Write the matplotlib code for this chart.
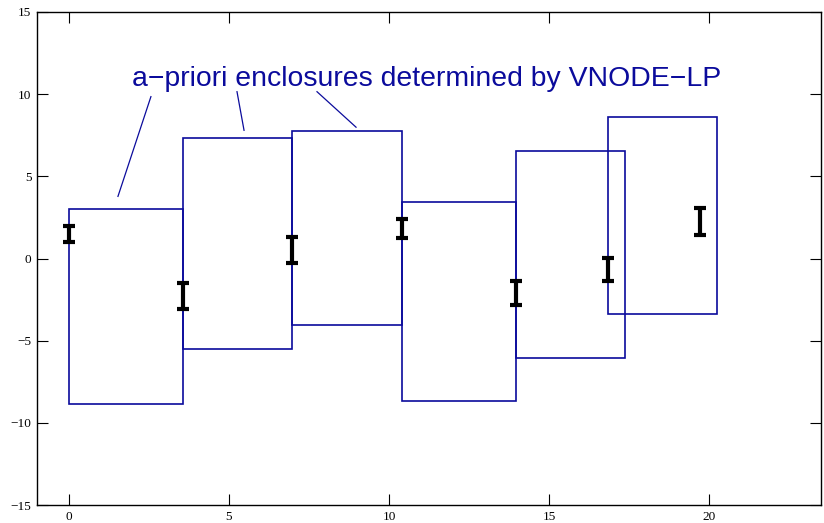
import matplotlib
matplotlib.use("Agg")
import matplotlib.pyplot as plt
from matplotlib.patches import Rectangle

# a-priori enclosure boxes: [t_start, t_end] x [y_low, y_high]
box_t0 = [0.0, 3.5625, 6.97, 10.4, 13.97, 16.84]
box_t1 = [3.5625, 6.97, 10.4, 13.97, 17.375, 20.25]
box_lo = [-8.84, -5.49, -4.02, -8.66, -6.04, -3.35]
box_hi = [3.0, 7.32, 7.74, 3.41, 6.52, 8.60]

# tight enclosures at the grid points
pt_t = [0.0, 3.5625, 6.97, 10.4, 13.97, 16.84, 19.72]
pt_lo = [1.02, -3.05, -0.30, 1.22, -2.86, -1.36, 1.40]
pt_hi = [2.00, -1.48, 1.32, 2.42, -1.36, 0.05, 3.05]

label = "a\u2212priori enclosures determined by VNODE\u2212LP"
label_pos = (1.97, 10.9)
pointer_start = [(2.56, 9.85), (5.25, 10.15), (7.75, 10.15)]
pointer_end = [(1.53, 3.78), (5.47, 7.80), (8.97, 7.99)]

box_color = "#0b0b9c"

fig = plt.figure(figsize=(8.24, 5.23), dpi=100)
ax = fig.add_axes([37 / 824, 18 / 523, 784 / 824, 493 / 523])

for t0, t1, lo, hi in zip(box_t0, box_t1, box_lo, box_hi):
    ax.add_patch(Rectangle((t0, lo), t1 - t0, hi - lo, fill=False,
                           edgecolor=box_color, linewidth=1.2, zorder=2))

ax.vlines(pt_t, pt_lo, pt_hi, colors="black", linewidth=3, zorder=3)
ax.plot(pt_t, pt_lo, linestyle="none", marker="_", markersize=8,
        markeredgewidth=3, color="black", zorder=3)
ax.plot(pt_t, pt_hi, linestyle="none", marker="_", markersize=8,
        markeredgewidth=3, color="black", zorder=3)

for (x0, y0), (x1, y1) in zip(pointer_start, pointer_end):
    ax.plot([x0, x1], [y0, y1], color=box_color, linewidth=0.9, zorder=2)

ax.text(label_pos[0], label_pos[1], label, color=box_color,
        fontsize=20.4, family="Liberation Sans", va="center", ha="left")

ax.set_xlim(-1, 23.5)
ax.set_ylim(-15, 15)
ax.set_xticks([0, 5, 10, 15, 20])
ax.set_yticks([-15, -10, -5, 0, 5, 10, 15])
ax.tick_params(direction="in", length=8, width=0.8, top=True, right=True,
               labelsize=9.5, pad=4)
for lab in ax.get_xticklabels() + ax.get_yticklabels():
    lab.set_family("Liberation Serif")
for sp in ax.spines.values():
    sp.set_linewidth(1.0)

fig.savefig("out.png", dpi=100)
